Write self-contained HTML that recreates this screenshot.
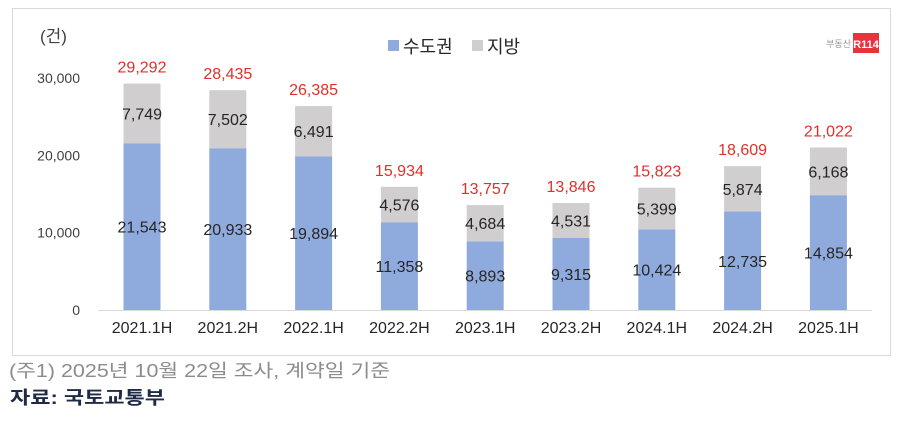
<!DOCTYPE html>
<html><head><meta charset="utf-8"><style>
body{margin:0;background:#fff;width:900px;height:422px;overflow:hidden;font-family:"Liberation Sans","Noto Sans CJK KR",sans-serif}
</style></head><body>
<svg width="900" height="422" viewBox="0 0 900 422" style="position:absolute;left:0;top:0">
<rect x="12.5" y="8.5" width="878" height="347" fill="#fff" stroke="#d9d9d9"/>
<text x="40" y="42" font-size="17" fill="#404040">(건)</text>
<g>
<rect x="388" y="40" width="11" height="11" fill="#8faadc"/>
<text x="403" y="53" font-size="18" fill="#262626">수도권</text>
<rect x="472" y="40" width="11" height="11" fill="#d0cece"/>
<text x="487" y="53" font-size="18" fill="#262626">지방</text>
</g>
<g>
<text x="851" y="47" font-size="9" fill="#999" text-anchor="end">부동산</text>
<rect x="853" y="33" width="26" height="20" fill="#e8323c"/>
<text x="866" y="48" font-size="11" fill="#fff" text-anchor="middle" font-weight="bold">R114</text>
</g>
<g id="plot"></g>
<text x="9" y="377" font-size="18" fill="#8c8c8c" textLength="381" lengthAdjust="spacingAndGlyphs">(주1) 2025년 10월 22일 조사, 계약일 기준</text>
<text x="10" y="404" font-size="18" fill="#1f2a44" font-weight="bold" textLength="155" lengthAdjust="spacingAndGlyphs">자료: 국토교통부</text>
</svg>
<script>
const categories=["2021.1H","2021.2H","2022.1H","2022.2H","2023.1H","2023.2H","2024.1H","2024.2H","2025.1H"];
const capital=[21543,20933,19894,11358,8893,9315,10424,12735,14854];
const local=[7749,7502,6491,4576,4684,4531,5399,5874,6168];
const totals=[29292,28435,26385,15934,13757,13846,15823,18609,21022];
const yTicks=[0,10000,20000,30000];
const NS="http://www.w3.org/2000/svg";
const g=document.getElementById("plot");
const y=v=>310-v*77.3/10000;
const x=i=>142+i*85.8;
const fmt=v=>v.toLocaleString("en-US");
function mk(t,a,txt){const e=document.createElementNS(NS,t);for(const k in a)e.setAttribute(k,a[k]);if(txt!=null)e.textContent=txt;g.appendChild(e);return e;}
yTicks.forEach(t=>{const e=mk("text",{x:80,y:y(t)+5,"font-size":14,fill:"#404040","text-anchor":"end"},fmt(t));

});
const ax=mk("line",{x1:98,x2:872,y1:310.5,y2:310.5,stroke:"#d9d9d9","stroke-width":1});


const bw=37;
categories.forEach((c,i)=>{
 const cx=x(i);
 const b1=mk("rect",{x:cx-bw/2,y:y(capital[i]),width:bw,height:310-y(capital[i]),fill:"#8faadc"});
 
 
 const b2=mk("rect",{x:cx-bw/2,y:y(capital[i]+local[i]),width:bw,height:y(capital[i])-y(capital[i]+local[i]),fill:"#d0cece"});
 
 
 const l1=mk("text",{x:cx,y:y(capital[i]/2)+6,"font-size":16,fill:"#262626","text-anchor":"middle"},fmt(capital[i]));
 
 
 const l2=mk("text",{x:cx,y:y(capital[i]+local[i]/2)+6,"font-size":16,fill:"#262626","text-anchor":"middle"},fmt(local[i]));
 
 
 const l3=mk("text",{x:cx,y:y(capital[i]+local[i])-11,"font-size":16,fill:"#e0302a","text-anchor":"middle"},fmt(totals[i]));
 
 
 const xl=mk("text",{x:cx,y:333,"font-size":16,fill:"#262626","text-anchor":"middle"},c);
 
 
});
</script>
</body></html>
